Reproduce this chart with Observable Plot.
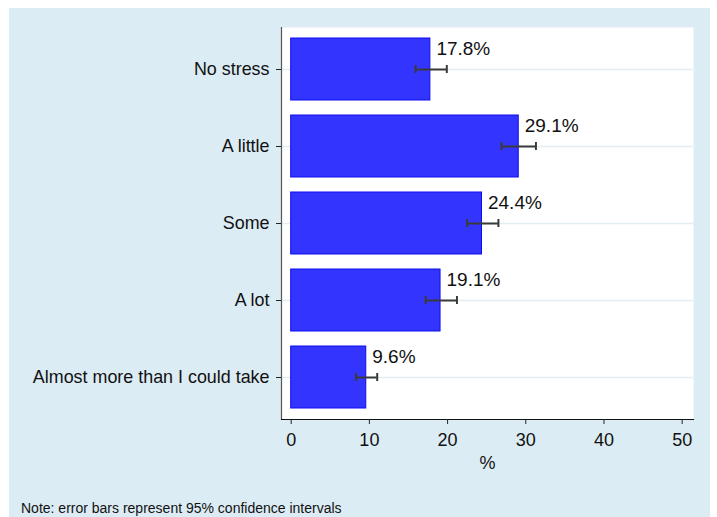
<!DOCTYPE html>
<html>
<head>
<meta charset="utf-8">
<script src="https://cdn.jsdelivr.net/npm/d3@7"></script>
<script src="https://cdn.jsdelivr.net/npm/@observablehq/plot@0.6"></script>
<style>
  html, body { margin: 0; padding: 0; background: #ffffff; }
  #panel { position: absolute; left: 9px; top: 8px; width: 701px; height: 509px; background: #dcecf4; font-family: "Liberation Sans", Arial, sans-serif; }
  #chart { position: absolute; left: 0; top: 0; }
  #note { position: absolute; left: 12px; top: 492px; font-size: 14px; line-height: 16px; color: #111; white-space: nowrap; }
</style>
</head>
<body>
<div id="panel">
  <div id="chart"></div>
  <div id="note">Note: error bars represent 95% confidence intervals</div>
</div>
<script>
const categories = ["No stress", "A little", "Some", "A lot", "Almost more than I could take"];
const percents = [17.8, 29.1, 24.4, 19.1, 9.6];
const ciLow = [15.9, 26.9, 22.5, 17.2, 8.3];
const ciHigh = [19.9, 31.3, 26.5, 21.2, 11.0];
const xTicks = [0, 10, 20, 30, 40, 50];
const xDomain = [-1.24, 51.45];

const data = categories.map((c, i) => ({cat: c, pct: percents[i], lo: ciLow[i], hi: ciHigh[i]}));

const plot = Plot.plot({
  width: 701,
  height: 470,
  marginLeft: 272,
  marginRight: 17,
  marginTop: 19,
  marginBottom: 59,
  style: {background: "transparent", fontFamily: "\"Liberation Sans\", Arial, sans-serif", color: "#111"},
  x: {domain: xDomain, label: null},
  y: {domain: categories, paddingInner: 0.2, paddingOuter: 0.14, label: null},
  marks: [
    Plot.frame({fill: "#ffffff", stroke: "none"}),
    Plot.ruleY(categories, {y: d => d, stroke: "#e4edf1", strokeWidth: 1.6}),
    Plot.barX(data, {x: "pct", y: "cat", fill: "#3434ff", stroke: "#0c0cf0", strokeWidth: 1}),
    Plot.ruleY(data, {y: "cat", x1: "lo", x2: "hi", stroke: "#3a3a3a", strokeWidth: 2}),
    Plot.tickX(data, {x: "lo", y: "cat", stroke: "#3a3a3a", strokeWidth: 2, insetTop: 27, insetBottom: 27}),
    Plot.tickX(data, {x: "hi", y: "cat", stroke: "#3a3a3a", strokeWidth: 2, insetTop: 27, insetBottom: 27}),
    Plot.text(data, {x: "pct", y: "cat", text: d => d.pct.toFixed(1) + "%", textAnchor: "start", lineAnchor: "bottom", dx: 6, dy: -15, fontSize: 19, fill: "#111"}),
    Plot.ruleX([xDomain[0]], {stroke: "#555", strokeWidth: 1.2}),
    Plot.frame({anchor: "bottom", stroke: "#111", strokeWidth: 1.2}),
    Plot.axisY({tickSize: 5, tickPadding: 7, fontSize: 17.9, stroke: "#222", label: null}),
    Plot.axisX({ticks: xTicks, tickFormat: d => String(d), tickSize: 5, tickPadding: 9, fontSize: 18, stroke: "#222", label: null}),
    Plot.text(["%"], {frameAnchor: "bottom", dy: 44, fontSize: 18, fill: "#111", lineAnchor: "middle"})
  ]
});
document.getElementById("chart").appendChild(plot);
</script>
</body>
</html>
